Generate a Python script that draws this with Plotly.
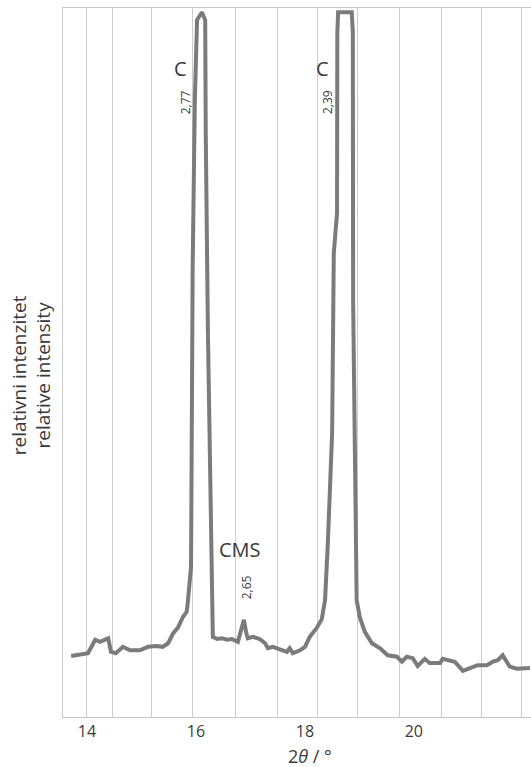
import plotly.graph_objects as go

# 2θ (degrees) and relative intensity (0-100, top clipped)
two_theta = [13.71, 14.02, 14.15, 14.24, 14.39, 14.44, 14.53, 14.66, 14.79, 14.97,
             15.12, 15.27, 15.39, 15.49, 15.58, 15.67, 15.76, 15.83, 15.85, 15.91,
             15.94, 15.98, 16.02, 16.11, 16.17, 16.18, 16.22, 16.26, 16.29, 16.31,
             16.39, 16.48, 16.57, 16.66, 16.77, 16.84, 16.88, 16.92, 16.95, 17.05,
             17.17, 17.27, 17.32, 17.41, 17.54, 17.67, 17.72, 17.78, 17.91, 18.00,
             18.09, 18.22, 18.31, 18.37, 18.42, 18.50, 18.53, 18.59, 18.595, 18.61,
             18.86, 18.88, 18.885, 18.92, 18.95, 19.01, 19.10, 19.23, 19.38, 19.52,
             19.69, 19.78, 19.87, 19.98, 20.07, 20.20, 20.29, 20.48, 20.53, 20.75,
             20.90, 21.03, 21.17, 21.34, 21.45, 21.54, 21.63, 21.76, 21.89, 22.13]
intensity = [8.6, 9.0, 10.9, 10.6, 11.1, 9.2, 9.0, 9.9, 9.4, 9.4,
             9.9, 10.0, 9.9, 10.4, 11.8, 12.6, 14.1, 14.8, 16.1, 21.2,
             63.5, 87.0, 98.3, 99.4, 98.3, 82.4, 54.2, 35.3, 13.7, 11.3,
             11.0, 11.1, 10.9, 11.0, 10.6, 12.6, 13.7, 12.0, 11.1, 11.3,
             11.0, 10.4, 9.7, 9.9, 9.6, 9.2, 9.7, 9.0, 9.4, 9.9,
             11.3, 12.6, 13.8, 16.5, 24.3, 40.1, 65.4, 71.1, 96.5, 99.4,
             99.4, 96.5, 58.8, 30.6, 16.5, 14.0, 12.0, 10.4, 9.7, 8.7,
             8.5, 7.8, 8.5, 8.3, 7.2, 8.2, 7.6, 7.6, 8.2, 7.8,
             6.5, 6.9, 7.3, 7.3, 7.8, 8.0, 8.7, 7.1, 6.8, 6.9]

tick_values = [14, 16, 18, 20]
tick_labels = ["14", "16", "18", "20"]
grid_positions = [14.0, 14.46, 15.19, 15.94, 16.73, 17.49, 18.24, 18.97,
                  19.74, 20.50, 21.25, 21.98]

peak_labels = ["C", "C", "CMS"]
peak_label_x = [15.71, 18.33, 16.81]
peak_label_y = [91.5, 91.5, 23.6]
d_labels = ["2,77", "2,39", "2,65"]
d_label_x = [15.80, 18.42, 16.92]
d_label_y = [86.7, 86.7, 18.3]

FONT = "Open Sans, Lato, sans-serif"
TXT = "#3a3a3a"

fig = go.Figure()
fig.add_trace(go.Scatter(
    x=two_theta, y=intensity, mode="lines",
    line=dict(color="#7b7b7b", width=4),
    hoverinfo="skip", showlegend=False,
))

for t, x, y in zip(peak_labels, peak_label_x, peak_label_y):
    fig.add_annotation(x=x, y=y, text=t, showarrow=False,
                       font=dict(family=FONT, size=20, color=TXT),
                       xanchor="center", yanchor="middle")
for t, x, y in zip(d_labels, d_label_x, d_label_y):
    fig.add_annotation(x=x, y=y, text=t, showarrow=False, textangle=-90,
                       font=dict(family=FONT, size=12, color=TXT),
                       xanchor="center", yanchor="middle")

fig.add_annotation(xref="paper", yref="paper", x=0, y=0.482, xshift=-32,
                   text="relativni intenzitet<br>relative intensity",
                   textangle=-90, showarrow=False,
                   font=dict(family=FONT, size=19, color=TXT),
                   xanchor="center", yanchor="middle")

fig.add_annotation(xref="paper", yref="paper", x=0.528, y=0, yshift=-39,
                   text="2<i>θ</i> / °", showarrow=False,
                   font=dict(family=FONT, size=18, color=TXT),
                   xanchor="center", yanchor="middle")

fig.update_layout(
    width=531, height=767,
    margin=dict(l=63, r=0, t=8, b=50),
    paper_bgcolor="white", plot_bgcolor="white",
    font=dict(family=FONT, color=TXT),
    xaxis=dict(
        range=[13.56, 22.15],
        tickmode="array", tickvals=tick_values, ticktext=tick_labels,
        showgrid=False, ticks="", zeroline=False,
        tickfont=dict(size=16, color=TXT),
        showline=True, linecolor="#c8c8c8", linewidth=1, mirror=True,
        minor=dict(tickmode="array", tickvals=grid_positions, showgrid=True,
                   gridcolor="#cccccc", gridwidth=1, ticks=""),
    ),
    yaxis=dict(
        range=[0, 100], showticklabels=False, showgrid=False, ticks="",
        zeroline=False, showline=True, linecolor="#c8c8c8", linewidth=1,
    ),
)

fig.write_html("out.html")
